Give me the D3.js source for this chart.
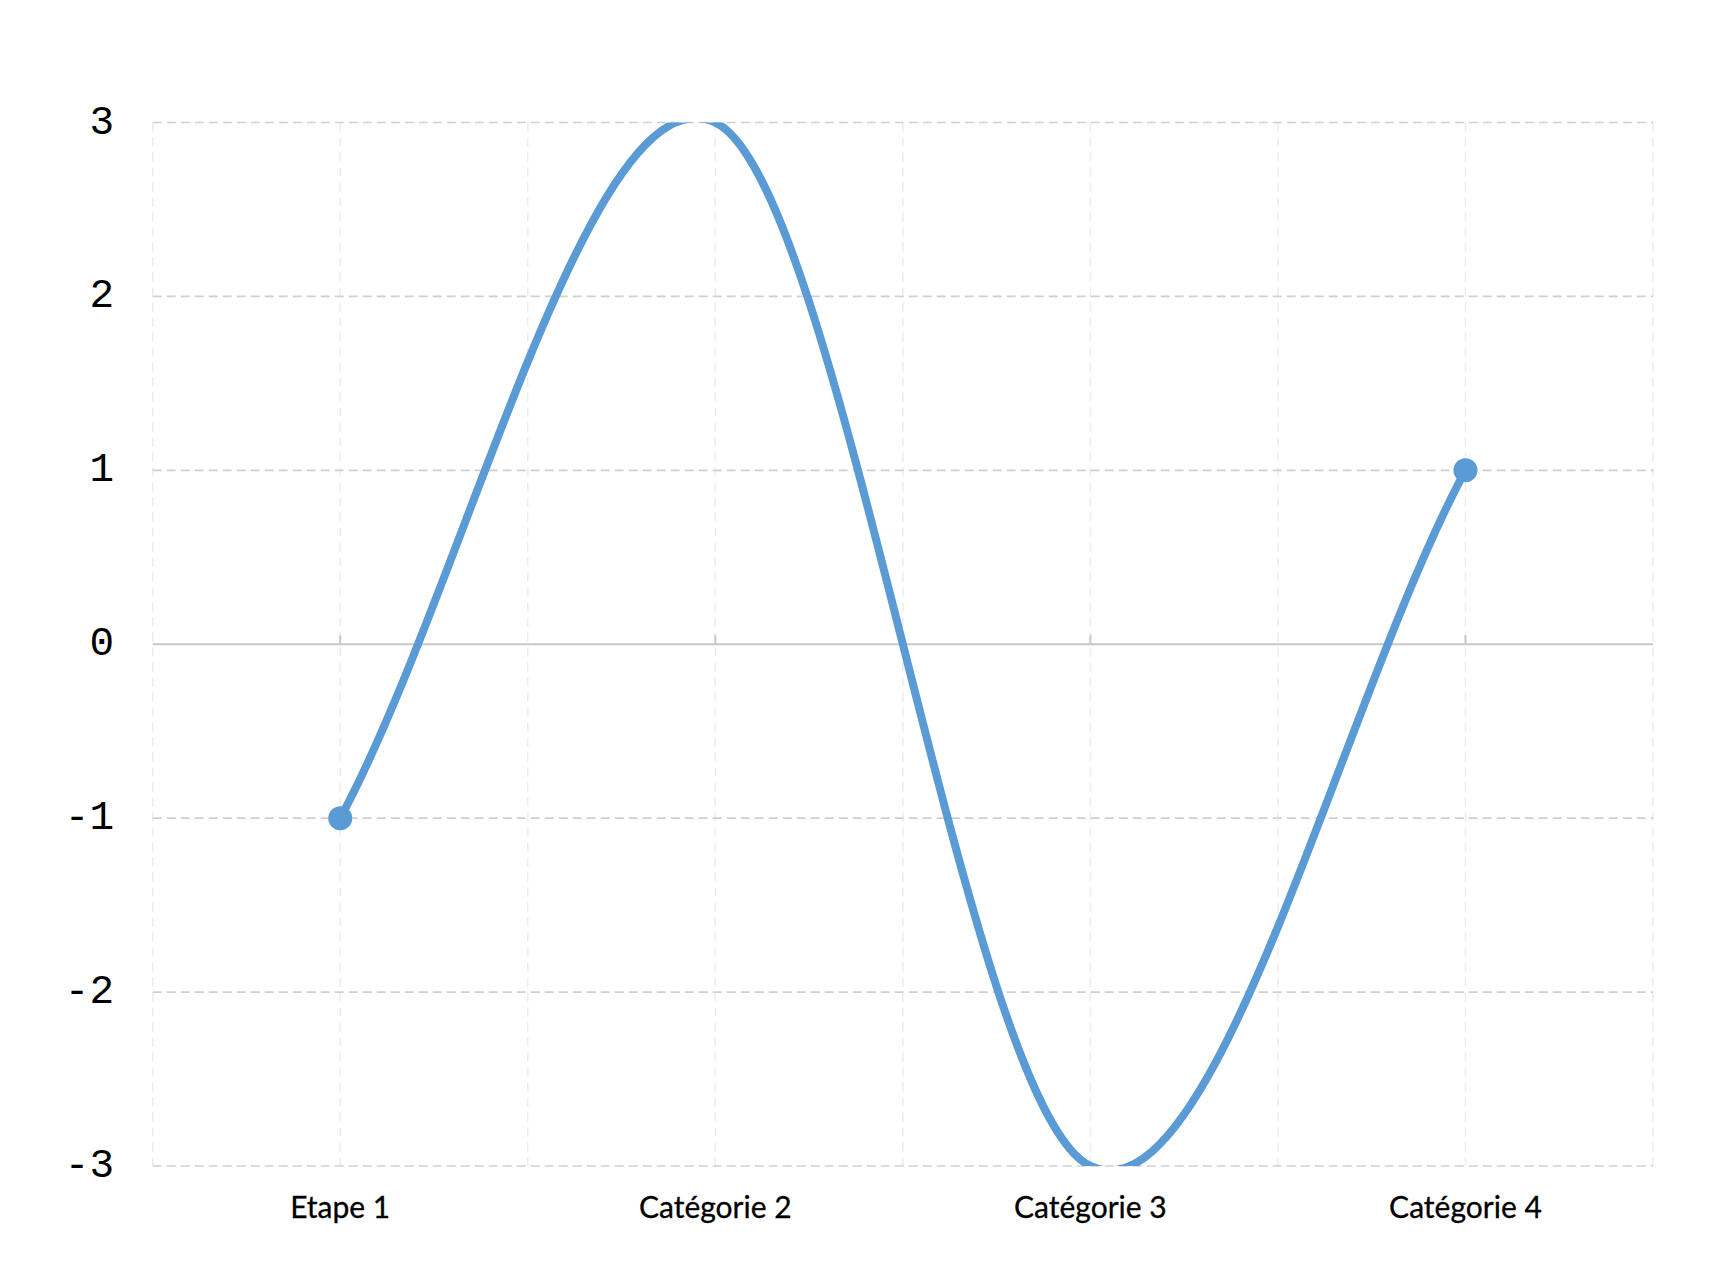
<!DOCTYPE html>
<html>
<head>
<meta charset="utf-8">
<script src="https://cdn.jsdelivr.net/npm/d3@7"></script>
<style>
  html, body { margin: 0; padding: 0; background: #ffffff; }
  svg { display: block; }
</style>
</head>
<body>
<script>
const categories = ["Etape 1", "Catégorie 2", "Catégorie 3", "Catégorie 4"];
const values = [-1, 3, -3, 1];
const yTicks = [-3, -2, -1, 0, 1, 2, 3];

(function () {
const W = 1724, H = 1278;
const plotLeft = 152.7, plotRight = 1653, plotTop = 122.5, plotBottom = 1166;

const svg = d3.select("body").append("svg").attr("width", W).attr("height", H);
svg.append("rect").attr("width", W).attr("height", H).attr("fill", "#ffffff");

const x = d3.scaleBand().domain(categories).range([plotLeft, plotRight]).padding(0);
const bw = x.bandwidth();
const cx = d => x(d) + bw / 2;
const y = d3.scaleLinear().domain([-3, 3]).range([plotBottom, plotTop]);

svg.append("defs").append("clipPath").attr("id", "plotclip")
  .append("rect").attr("x", plotLeft).attr("y", plotTop)
  .attr("width", plotRight - plotLeft).attr("height", plotBottom - plotTop);

// vertical light gridlines at band edges and centers
const vLines = [];
categories.forEach(c => { vLines.push(x(c)); vLines.push(cx(c)); });
vLines.push(plotRight);
svg.append("g").selectAll("line").data(vLines).join("line")
  .attr("x1", d => d).attr("x2", d => d)
  .attr("y1", plotTop).attr("y2", plotBottom)
  .attr("stroke", "#ececec").attr("stroke-width", 1.5)
  .attr("stroke-dasharray", "9,6");

// horizontal dashed gridlines
svg.append("g").selectAll("line").data(yTicks.filter(t => t !== 0)).join("line")
  .attr("x1", plotLeft).attr("x2", plotRight)
  .attr("y1", d => y(d)).attr("y2", d => y(d))
  .attr("stroke", "#d0d0d0").attr("stroke-width", 1.6)
  .attr("stroke-dasharray", "9,5");

// zero axis line
svg.append("line")
  .attr("x1", plotLeft).attr("x2", plotRight)
  .attr("y1", y(0)).attr("y2", y(0))
  .attr("stroke", "#c8c8c8").attr("stroke-width", 2);
svg.append("g").selectAll("line").data(categories).join("line")
  .attr("x1", d => cx(d)).attr("x2", d => cx(d))
  .attr("y1", y(0) - 9).attr("y2", y(0))
  .attr("stroke", "#c8c8c8").attr("stroke-width", 2);

// y labels
svg.append("g").selectAll("text").data(yTicks).join("text")
  .attr("x", 114).attr("y", d => y(d))
  .attr("text-anchor", "end").attr("dominant-baseline", "central")
  .attr("font-family", "'Liberation Mono', 'DejaVu Sans Mono', monospace")
  .attr("font-size", 41).attr("fill", "#000000")
  .text(d => d);

// x labels
svg.append("g").selectAll("text").data(categories).join("text")
  .attr("x", d => cx(d)).attr("y", 1218)
  .attr("text-anchor", "middle")
  .attr("font-family", "Lato, 'Open Sans', sans-serif")
  .attr("font-size", 30).attr("fill", "#000000")
  .attr("stroke", "#000000").attr("stroke-width", 0.3)
  .text(d => d);

// smooth line (Excel-style Bezier smoothing)
const pts = categories.map((c, i) => [cx(c), y(values[i])]);
const n = pts.length;
const tang = pts.map((p, i) => {
  if (i === 0) return [(pts[1][0] - p[0]) / 3, (pts[1][1] - p[1]) / 3];
  if (i === n - 1) return [(p[0] - pts[n - 2][0]) / 3, (p[1] - pts[n - 2][1]) / 3];
  return [(pts[i + 1][0] - pts[i - 1][0]) / 6, (pts[i + 1][1] - pts[i - 1][1]) / 6];
});
const path = d3.path();
path.moveTo(pts[0][0], pts[0][1]);
for (let i = 0; i < n - 1; i++) {
  const a = pts[i], b = pts[i + 1];
  path.bezierCurveTo(a[0] + tang[i][0], a[1] + tang[i][1],
                     b[0] - tang[i + 1][0], b[1] - tang[i + 1][1],
                     b[0], b[1]);
}
svg.append("path").attr("d", path.toString())
  .attr("clip-path", "url(#plotclip)")
  .attr("fill", "none").attr("stroke", "#5b9bd5")
  .attr("stroke-width", 8).attr("stroke-linecap", "round");

// end markers
svg.append("g").selectAll("circle").data([pts[0], pts[n - 1]]).join("circle")
  .attr("cx", d => d[0]).attr("cy", d => d[1]).attr("r", 12)
  .attr("fill", "#5b9bd5");
})();
</script>
</body>
</html>
